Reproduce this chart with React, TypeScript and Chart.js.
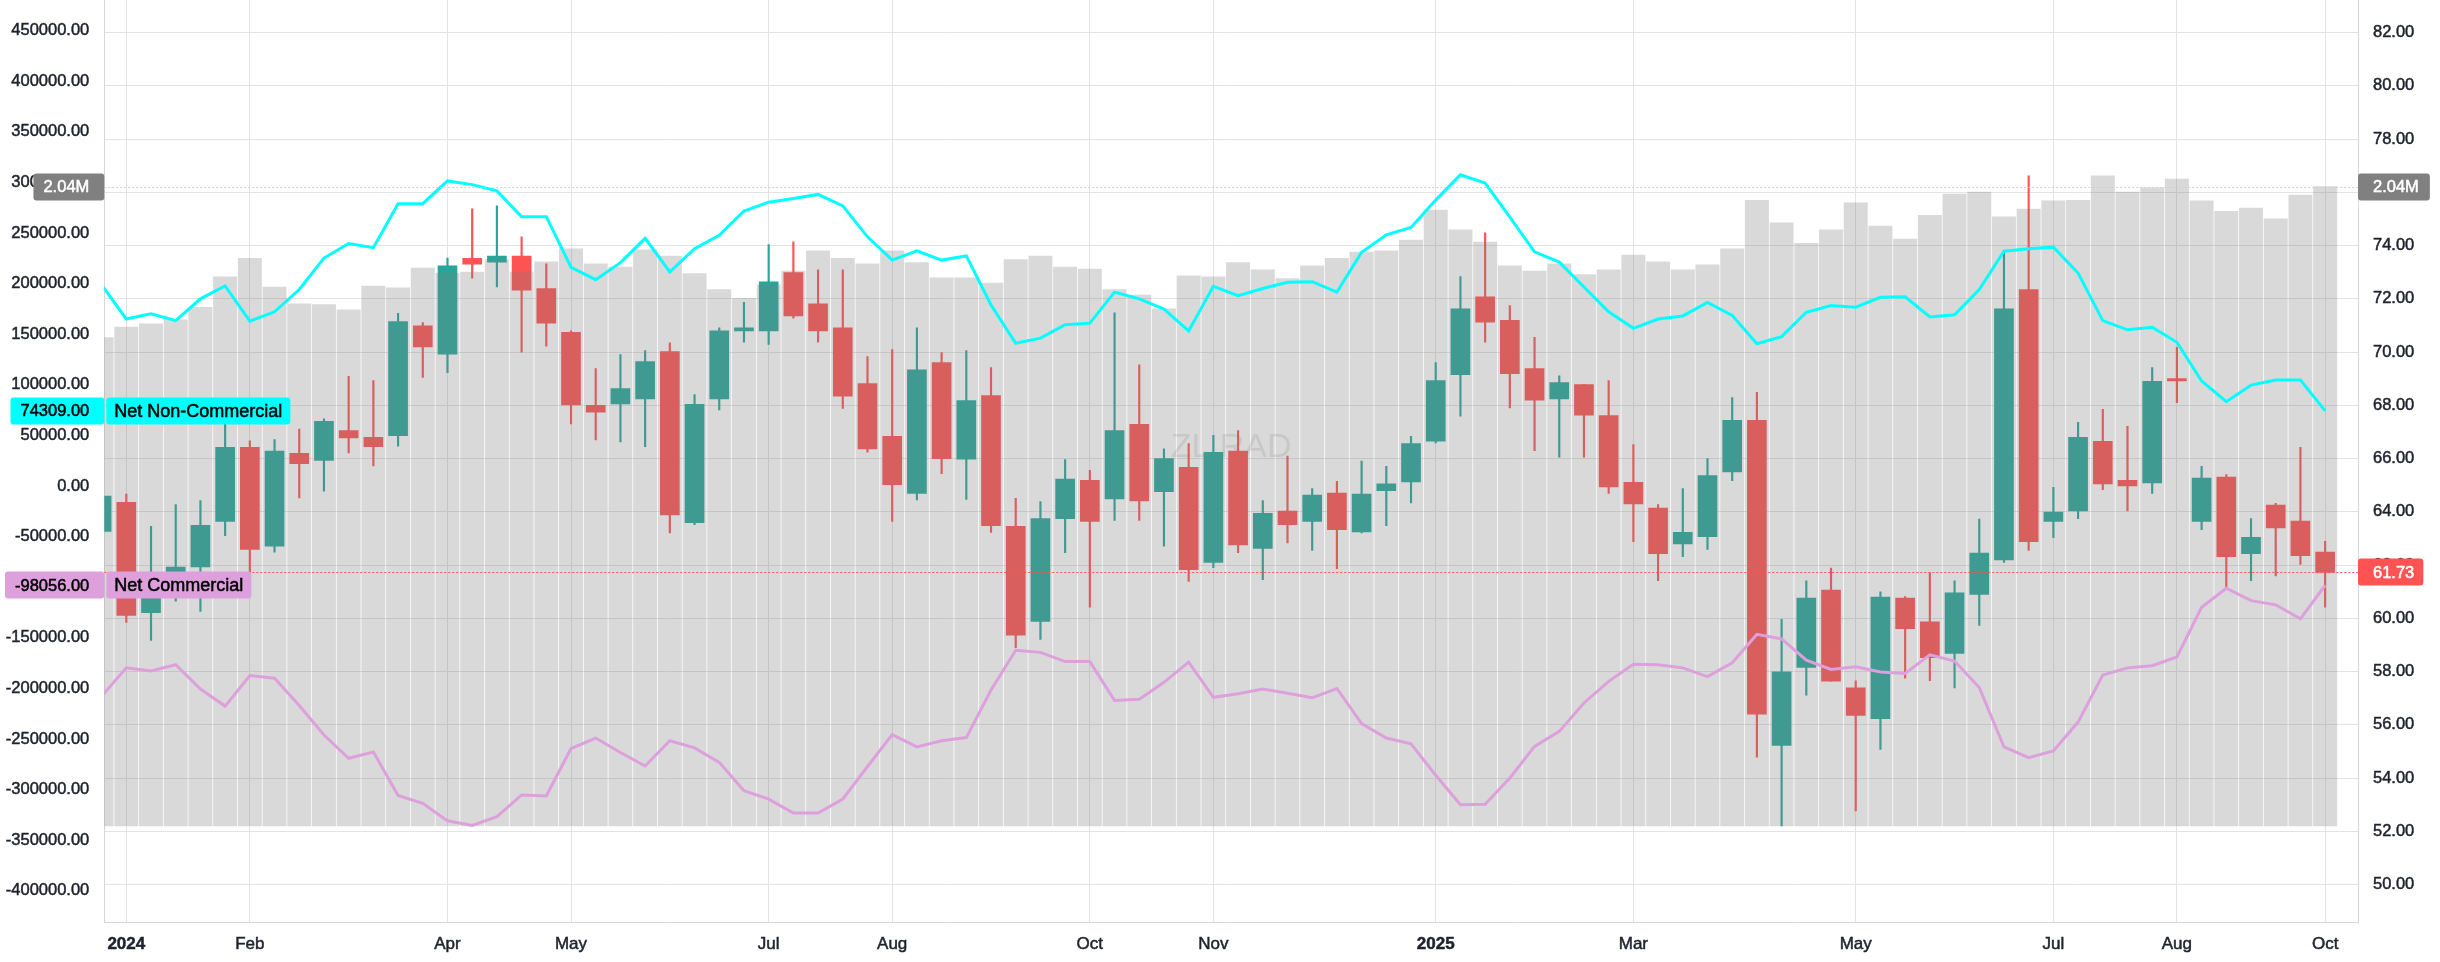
import React, { useEffect, useRef } from 'react';
import { Chart, registerables } from 'chart.js';

Chart.register(...registerables);

const FONT = '"Liberation Sans", Arial, sans-serif';
const TEXT = '#1e222d';
const UP = '#26a69a';
const DOWN = '#ff5252';
const CYAN = '#00ffff';
const PLUM = '#dda0dd';

// weekly candles (right scale)
const opens = [
  63.27, 64.36, 60.22, 61.3, 61.93, 63.64, 66.43, 62.71, 66.2, 65.93,
  67.05, 66.8, 66.86, 70.99, 69.92, 73.52, 73.38, 73.61, 72.39, 70.74,
  68.0, 68.06, 68.24, 70.02, 63.6, 68.24, 70.8, 70.8, 72.99, 71.81,
  70.91, 68.82, 66.84, 64.69, 69.61, 65.98, 68.37, 63.46, 59.89, 63.75,
  65.19, 64.49, 67.29, 64.76, 65.67, 62.1, 66.28, 62.63, 64.03, 63.64,
  64.71, 63.25, 64.8, 65.13, 66.66, 69.15, 72.08, 71.19, 69.38, 68.24,
  68.78, 67.62, 65.11, 64.14, 62.8, 63.07, 65.5, 67.44, 55.23, 58.16,
  61.06, 57.39, 56.24, 60.76, 59.87, 58.69, 60.9, 62.2, 72.35, 63.64,
  64.04, 66.65, 65.19, 65.09, 69.01, 63.64, 65.31, 62.43, 64.26, 63.66,
  62.49,
];
const highs = [
  64.7, 64.67, 63.46, 64.28, 64.43, 67.5, 66.67, 66.72, 67.11, 67.5,
  69.09, 68.93, 71.46, 71.11, 73.53, 75.38, 75.49, 74.33, 73.32, 70.8,
  69.38, 69.91, 70.06, 70.35, 68.41, 70.91, 71.87, 74.04, 74.14, 73.09,
  73.09, 69.83, 70.1, 70.91, 69.98, 70.06, 69.42, 64.51, 64.39, 65.97,
  65.56, 71.48, 69.52, 66.37, 66.57, 66.88, 67.05, 64.43, 66.1, 64.88,
  65.15, 65.91, 65.71, 66.84, 69.61, 72.84, 74.48, 71.75, 70.56, 69.11,
  68.78, 68.93, 66.53, 64.28, 64.88, 66.0, 68.29, 68.49, 59.97, 61.41,
  61.89, 57.66, 61.0, 60.82, 61.72, 61.41, 63.73, 73.77, 76.62, 64.92,
  67.36, 67.85, 67.21, 69.42, 70.18, 65.71, 65.4, 63.75, 64.32, 66.43,
  62.9,
];
const lows = [
  63.1, 59.85, 59.17, 60.65, 60.26, 63.11, 61.48, 62.49, 64.53, 64.78,
  66.22, 65.73, 66.47, 69.05, 69.23, 72.78, 72.45, 70.0, 70.22, 67.3,
  66.7, 66.63, 66.45, 63.21, 63.52, 67.83, 70.37, 70.29, 71.28, 70.37,
  67.89, 66.24, 63.64, 64.45, 65.44, 64.47, 63.23, 58.9, 59.21, 62.47,
  60.42, 63.68, 63.68, 62.71, 61.39, 61.91, 62.47, 61.46, 62.84, 62.55,
  61.87, 63.21, 63.48, 64.34, 66.59, 67.6, 70.37, 67.91, 66.3, 66.06,
  66.06, 64.69, 62.88, 61.42, 62.32, 62.59, 65.17, 54.79, 52.21, 57.12,
  57.64, 52.77, 55.08, 57.76, 57.66, 57.39, 59.74, 62.1, 62.55, 63.03,
  63.75, 64.84, 64.04, 64.69, 68.1, 63.33, 61.19, 61.42, 61.6, 62.03,
  60.42,
];
const closes = [
  64.59, 60.11, 61.3, 61.93, 63.5, 66.43, 62.59, 66.28, 65.81, 67.4,
  66.78, 66.45, 71.15, 70.2, 73.24, 73.3, 73.61, 72.33, 71.09, 68.02,
  67.75, 68.63, 69.65, 63.89, 68.04, 70.8, 70.91, 72.64, 71.36, 70.8,
  68.35, 66.37, 65.02, 69.34, 66.0, 68.18, 63.48, 59.37, 63.75, 65.23,
  63.64, 67.05, 64.41, 66.0, 61.83, 66.24, 62.76, 63.95, 63.52, 64.63,
  63.33, 64.67, 65.05, 66.57, 68.93, 71.63, 71.13, 69.19, 68.2, 68.86,
  67.63, 64.94, 64.3, 62.43, 63.23, 65.36, 67.44, 56.4, 57.99, 60.76,
  57.64, 56.36, 60.8, 59.62, 58.53, 60.96, 62.45, 71.63, 62.88, 63.99,
  66.8, 65.05, 64.98, 68.9, 68.92, 65.27, 62.32, 63.05, 63.4, 62.36,
  61.73,
];

// open interest, millions (hidden scale)
const openInterestM = [
  1.558, 1.592, 1.602, 1.615, 1.655, 1.752, 1.811, 1.719, 1.666, 1.663,
  1.647, 1.722, 1.717, 1.78, 1.764, 1.767, 1.807, 1.767, 1.8, 1.841,
  1.793, 1.783, 1.838, 1.818, 1.762, 1.711, 1.683, 1.726, 1.77, 1.835,
  1.811, 1.793, 1.835, 1.797, 1.749, 1.749, 1.732, 1.807, 1.818, 1.783,
  1.777, 1.711, 1.694, 1.65, 1.755, 1.752, 1.797, 1.774, 1.746, 1.787,
  1.811, 1.831, 1.835, 1.869, 1.965, 1.902, 1.863, 1.787, 1.77, 1.793,
  1.759, 1.774, 1.821, 1.8, 1.774, 1.79, 1.841, 1.996, 1.924, 1.859,
  1.902, 1.988, 1.914, 1.872, 1.948, 2.016, 2.022, 1.943, 1.968, 1.994,
  1.996, 2.074, 2.022, 2.036, 2.064, 1.994, 1.961, 1.971, 1.937, 2.013,
  2.04,
];

// COT net positions (left scale)
const netNonCommercial = [
  198800, 165100, 170200, 163500, 185000, 197800, 163000, 172200, 194200, 225300,
  239700, 235600, 279000, 279000, 301500, 297900, 291700, 266200, 266200, 216200,
  203900, 220800, 244800, 211600, 234500, 247800, 271800, 280500, 284100, 288200,
  276900, 246300, 223300, 232500, 223300, 227400, 178900, 141100, 146200, 159500,
  161000, 191600, 185000, 174800, 153300, 197300, 188100, 195200, 201300, 201900,
  191600, 231000, 248300, 255500, 282600, 307600, 299400, 265700, 231500, 221300,
  196700, 172200, 155900, 165100, 168100, 181400, 168700, 140600, 147700, 171700,
  178400, 176800, 186500, 187000, 167100, 169200, 194200, 232000, 234500, 236100,
  210500, 163500, 154400, 156900, 142100, 103800, 83400, 99700, 104800, 104800,
  74309,
];
const netCommercial = [
  -207800, -179700, -182700, -176600, -200600, -217500, -187300, -189900, -217000, -246100,
  -269100, -262900, -305800, -313500, -330900, -335500, -326800, -305300, -306300, -259400,
  -249100, -263400, -276700, -251700, -258800, -273100, -301200, -309400, -323200, -323200,
  -309400, -277200, -245600, -257800, -251700, -248600, -201600, -162300, -164400, -173500,
  -173500, -211900, -210800, -194000, -174100, -208800, -205200, -200600, -204700, -209300,
  -200100, -234800, -249100, -254800, -285900, -315000, -314500, -288500, -257300, -242500,
  -214400, -193000, -176100, -176600, -179700, -188400, -174600, -146500, -151100, -172000,
  -181200, -178700, -183800, -185300, -166900, -173000, -199100, -257800, -268500, -261900,
  -233300, -186800, -179700, -177600, -169000, -119900, -101000, -113300, -117400, -131200,
  -98056,
];

const monthTickIdx = [1, 6, 14, 19, 27, 32, 40, 45, 54, 62, 71, 79, 84, 90];
const monthTickLabels = ['2024', 'Feb', 'Apr', 'May', 'Jul', 'Aug', 'Oct', 'Nov', '2025', 'Mar', 'May', 'Jul', 'Aug', 'Oct'];
const priceTicks = [82, 80, 78, 76, 74, 72, 70, 68, 66, 64, 62, 60, 58, 56, 54, 52, 50];
const netTicks = [
  450000, 400000, 350000, 300000, 250000, 200000, 150000, 100000, 50000, 0,
  -50000, -100000, -150000, -200000, -250000, -300000, -350000, -400000,
];

const candleColors = closes.map((c, i) => (c >= opens[i] ? UP : DOWN));

const tag = (
  ctx: CanvasRenderingContext2D,
  x1: number,
  x2: number,
  yc: number,
  fill: string,
) => {
  ctx.fillStyle = fill;
  ctx.beginPath();
  ctx.roundRect(x1, Math.round(yc) - 13.5, x2 - x1, 27, 3);
  ctx.fill();
};

// filled text with a hairline stroke so it reads as heavy as the reference
const heavyText = (ctx: CanvasRenderingContext2D, txt: string, x: number, y: number, color: string) => {
  ctx.fillStyle = color;
  ctx.strokeStyle = color;
  ctx.lineWidth = 0.5;
  ctx.fillText(txt, x, y);
  ctx.strokeText(txt, x, y);
};

const overlayPlugin = {
  id: 'cotOverlay',
  beforeDatasetsDraw(chart: any) {
    const { ctx, chartArea } = chart;
    ctx.save();
    ctx.font = `34px ${FONT}`;
    ctx.fillStyle = 'rgb(231,231,231)';
    ctx.textAlign = 'center';
    ctx.textBaseline = 'middle';
    ctx.fillText('ZL RAD', (chartArea.left + chartArea.right) / 2, 448);
    ctx.restore();
  },
  afterDatasetsDraw(chart: any) {
    const { ctx, chartArea, scales } = chart;
    ctx.save();
    ctx.beginPath();
    ctx.rect(chartArea.left, chartArea.top, chartArea.right - chartArea.left, chartArea.bottom - chartArea.top);
    ctx.clip();
    ctx.lineWidth = 1;
    ctx.setLineDash([2, 2]);
    const yOi = Math.round(scales.yV.getPixelForValue(openInterestM[openInterestM.length - 1])) + 0.5;
    ctx.strokeStyle = '#cfcfcf';
    ctx.beginPath();
    ctx.moveTo(chartArea.left, yOi);
    ctx.lineTo(chartArea.right, yOi);
    ctx.stroke();
    const yPx = Math.round(scales.yR.getPixelForValue(closes[closes.length - 1])) + 0.5;
    ctx.strokeStyle = DOWN;
    ctx.beginPath();
    ctx.moveTo(chartArea.left, yPx);
    ctx.lineTo(chartArea.right, yPx);
    ctx.stroke();
    ctx.restore();
  },
  afterDraw(chart: any) {
    const { ctx, chartArea, scales } = chart;
    const left = chartArea.left;
    const right = chartArea.right;
    const numX = left - 15;
    ctx.save();
    ctx.textBaseline = 'middle';

    const leftTag = (value: number, fill: string, name: string) => {
      const y = scales.yL.getPixelForValue(value);
      const txt = value.toFixed(2);
      ctx.font = `16.5px ${FONT}`;
      const w = ctx.measureText(txt).width;
      tag(ctx, numX - w - 10, left, y, fill);
      ctx.textAlign = 'right';
      heavyText(ctx, txt, numX, y + 1, '#000');
      ctx.font = `18px ${FONT}`;
      const nw = ctx.measureText(name).width;
      tag(ctx, left + 2, left + 2 + nw + 16, y, fill);
      ctx.textAlign = 'left';
      heavyText(ctx, name, left + 10, y + 1, '#000');
    };
    leftTag(netNonCommercial[netNonCommercial.length - 1], CYAN, 'Net Non-Commercial');
    leftTag(netCommercial[netCommercial.length - 1], PLUM, 'Net Commercial');

    // open interest tags
    const oi = openInterestM[openInterestM.length - 1];
    const yOi = scales.yV.getPixelForValue(oi);
    const oiTxt = oi.toFixed(2) + 'M';
    ctx.font = `16.5px ${FONT}`;
    const ow = ctx.measureText(oiTxt).width;
    tag(ctx, numX - ow - 10, left, yOi, '#808080');
    ctx.textAlign = 'right';
    heavyText(ctx, oiTxt, numX, yOi + 1, '#fff');
    tag(ctx, right, right + 15 + ow + 11, yOi, '#808080');
    ctx.textAlign = 'left';
    heavyText(ctx, oiTxt, right + 15, yOi + 1, '#fff');

    // last price tag
    const last = closes[closes.length - 1];
    const yLast = scales.yR.getPixelForValue(last);
    const lt = last.toFixed(2);
    const lw = ctx.measureText(lt).width;
    tag(ctx, right, right + 15 + lw + 9, yLast, DOWN);
    heavyText(ctx, lt, right + 15, yLast + 1, '#fff');
    ctx.restore();
  },
};

export default function App() {
  const canvasRef = useRef<HTMLCanvasElement>(null);

  useEffect(() => {
    if (!canvasRef.current) return;
    Chart.defaults.font.family = FONT;

    const tickText = { color: TEXT, textStrokeColor: TEXT, textStrokeWidth: 0.5 };

    const chart = new Chart(canvasRef.current, {
      type: 'bar',
      data: {
        datasets: [
          {
            type: 'bar',
            label: 'Wick',
            data: lows.map((l, i) => ({ x: i, y: [l, highs[i]] })),
            backgroundColor: candleColors,
            barThickness: 1.5,
            grouped: false,
            yAxisID: 'yR',
            order: 5,
          },
          {
            type: 'bar',
            label: 'Body',
            data: opens.map((o, i) => ({ x: i, y: [o, closes[i]] })),
            backgroundColor: candleColors,
            barThickness: 19,
            grouped: false,
            yAxisID: 'yR',
            order: 4,
          },
          {
            type: 'bar',
            label: 'Open Interest',
            data: openInterestM.map((v, i) => ({ x: i, y: v })),
            backgroundColor: 'rgba(123,123,123,0.29)',
            barThickness: 23.3,
            grouped: false,
            yAxisID: 'yV',
            order: 3,
          },
          {
            type: 'line',
            label: 'Net Non-Commercial',
            data: netNonCommercial.map((v, i) => ({ x: i, y: v })),
            borderColor: CYAN,
            borderWidth: 3,
            pointRadius: 0,
            tension: 0,
            yAxisID: 'yL',
            order: 2,
          },
          {
            type: 'line',
            label: 'Net Commercial',
            data: netCommercial.map((v, i) => ({ x: i, y: v })),
            borderColor: PLUM,
            borderWidth: 3,
            pointRadius: 0,
            tension: 0,
            yAxisID: 'yL',
            order: 1,
          },
        ] as any,
      },
      options: {
        animation: false,
        responsive: true,
        maintainAspectRatio: false,
        events: [],
        layout: { padding: 0 },
        plugins: {
          legend: { display: false },
          tooltip: { enabled: false },
        },
        scales: {
          x: {
            type: 'linear',
            min: 0.109,
            max: 91.33,
            offset: false,
            grid: { color: '#e3e3e3', drawTicks: false, offset: false },
            border: { color: '#d6d6d6' },
            ticks: {
              ...tickText,
              padding: 12,
              autoSkip: false,
              maxRotation: 0,
              font: (ctx: any) => ({
                family: FONT,
                size: 17,
                weight: /^\d{4}$/.test(monthTickLabels[ctx.index] || '') ? 'bold' : 'normal',
              }),
              callback: (_v: any, i: number) => monthTickLabels[i],
            },
            afterBuildTicks: (s: any) => {
              s.ticks = monthTickIdx.map((v) => ({ value: v }));
            },
            afterFit: (s: any) => {
              s.height = 40;
              s.paddingLeft = 0;
              s.paddingRight = 0;
            },
          },
          yR: {
            type: 'linear',
            position: 'right',
            min: 48.6,
            max: 83.224,
            grid: { color: '#e3e3e3', drawTicks: false },
            border: { color: '#d6d6d6' },
            ticks: {
              ...tickText,
              padding: 15,
              font: { family: FONT, size: 16.5 },
              callback: (v: any) => Number(v).toFixed(2),
            },
            afterBuildTicks: (s: any) => {
              s.ticks = priceTicks.map((v) => ({ value: v }));
            },
            afterFit: (s: any) => {
              s.width = 82;
              s.paddingTop = 0;
              s.paddingBottom = 0;
            },
          },
          yL: {
            type: 'linear',
            position: 'left',
            min: -430869,
            max: 480341,
            grid: { display: false, drawTicks: false },
            border: { color: '#d6d6d6' },
            ticks: {
              ...tickText,
              padding: 15,
              font: { family: FONT, size: 16.5 },
              callback: (v: any) => Number(v).toFixed(2),
            },
            afterBuildTicks: (s: any) => {
              s.ticks = netTicks.map((v) => ({ value: v }));
            },
            afterFit: (s: any) => {
              s.width = 104.3;
              s.paddingTop = 0;
              s.paddingBottom = 0;
            },
          },
          yV: {
            type: 'linear',
            display: false,
            min: -0.3062,
            max: 2.635,
          },
        },
      } as any,
      plugins: [overlayPlugin],
    });

    return () => chart.destroy();
  }, []);

  return (
    <div style={{ position: 'fixed', left: 0, top: 0, width: 2440, height: 962, background: '#ffffff' }}>
      <canvas ref={canvasRef} />
    </div>
  );
}
